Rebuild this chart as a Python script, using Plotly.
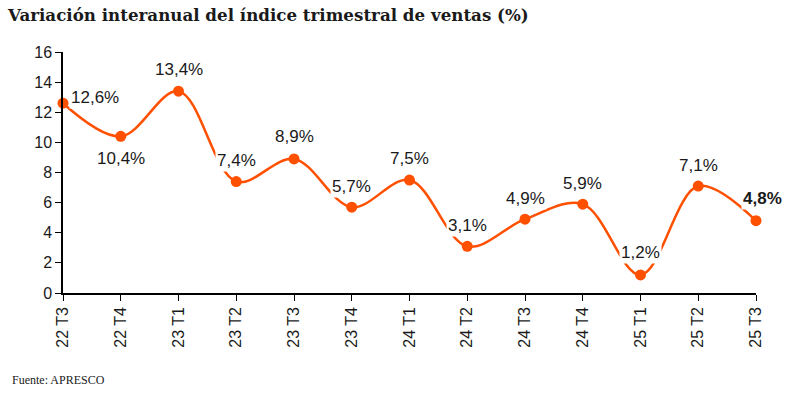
import plotly.graph_objects as go

categories = ["22 T3", "22 T4", "23 T1", "23 T2", "23 T3", "23 T4", "24 T1",
              "24 T2", "24 T3", "24 T4", "25 T1", "25 T2", "25 T3"]
values = [12.6, 10.4, 13.4, 7.4, 8.9, 5.7, 7.5, 3.1, 4.9, 5.9, 1.2, 7.1, 4.8]
labels = ["12,6%", "10,4%", "13,4%", "7,4%", "8,9%", "5,7%", "7,5%",
          "3,1%", "4,9%", "5,9%", "1,2%", "7,1%", "4,8%"]
y_ticks = [0, 2, 4, 6, 8, 10, 12, 14, 16]

color = "#FF5000"
xs = list(range(len(categories)))

fig = go.Figure()
fig.add_trace(go.Scatter(
    x=xs, y=values, mode="lines+markers",
    line=dict(color=color, width=2.5, shape="spline", smoothing=1.0),
    marker=dict(color=color, size=11),
    cliponaxis=False, hoverinfo="skip", showlegend=False,
))

# label placement: (xshift, yshift)
offsets = [(32, 6), (0, -22), (0, 22), (0, 21), (0, 22), (0, 21), (0, 22),
           (0, 21), (0, 21), (0, 21), (0, 22), (0, 21), (6, 22)]
for i, (x, v, t) in enumerate(zip(xs, values, labels)):
    dx, dy = offsets[i]
    bold = i == len(values) - 1
    fig.add_annotation(
        x=x, y=v, text=f"<b>{t}</b>" if bold else t, showarrow=False,
        xshift=dx, yshift=dy, bgcolor="white", borderpad=1,
        font=dict(family="Liberation Sans, Arial", size=17, color="#1a1a1a"),
    )

fig.add_annotation(
    text="<b>Variación interanual del índice trimestral de ventas (%)</b>",
    xref="paper", yref="paper", x=-58/693, y=1 + 37/241, xanchor="left", yanchor="middle",
    showarrow=False, font=dict(family="DejaVu Serif, serif", size=16.7, color="#1a1a1a"),
)
fig.add_annotation(
    text="Fuente: APRESCO",
    xref="paper", yref="paper", x=-53/693, y=-87/241, xanchor="left", yanchor="middle",
    showarrow=False, font=dict(family="Liberation Serif, serif", size=12, color="#1a1a1a"),
)

fig.update_layout(
    width=800, height=398,
    margin=dict(l=63, r=44, t=52, b=105),
    paper_bgcolor="white", plot_bgcolor="white",
    xaxis=dict(
        range=[0, 12], tickvals=xs, ticktext=categories, tickangle=-90,
        showgrid=False, zeroline=False, showline=True, linecolor="black", linewidth=1.5,
        ticks="outside", ticklen=6, tickcolor="black",
        tickfont=dict(family="Liberation Sans, Arial", size=16, color="#1a1a1a"),
    ),
    yaxis=dict(
        range=[0, 16], tickvals=y_ticks, showgrid=False, zeroline=False,
        showline=True, linecolor="black", linewidth=1.5,
        ticks="outside", ticklen=6, tickcolor="black",
        tickfont=dict(family="Liberation Sans, Arial", size=16, color="#1a1a1a"),
    ),
)

fig.write_html("out.html", config={"displayModeBar": False},
               post_script="document.body.style.margin='0';")
